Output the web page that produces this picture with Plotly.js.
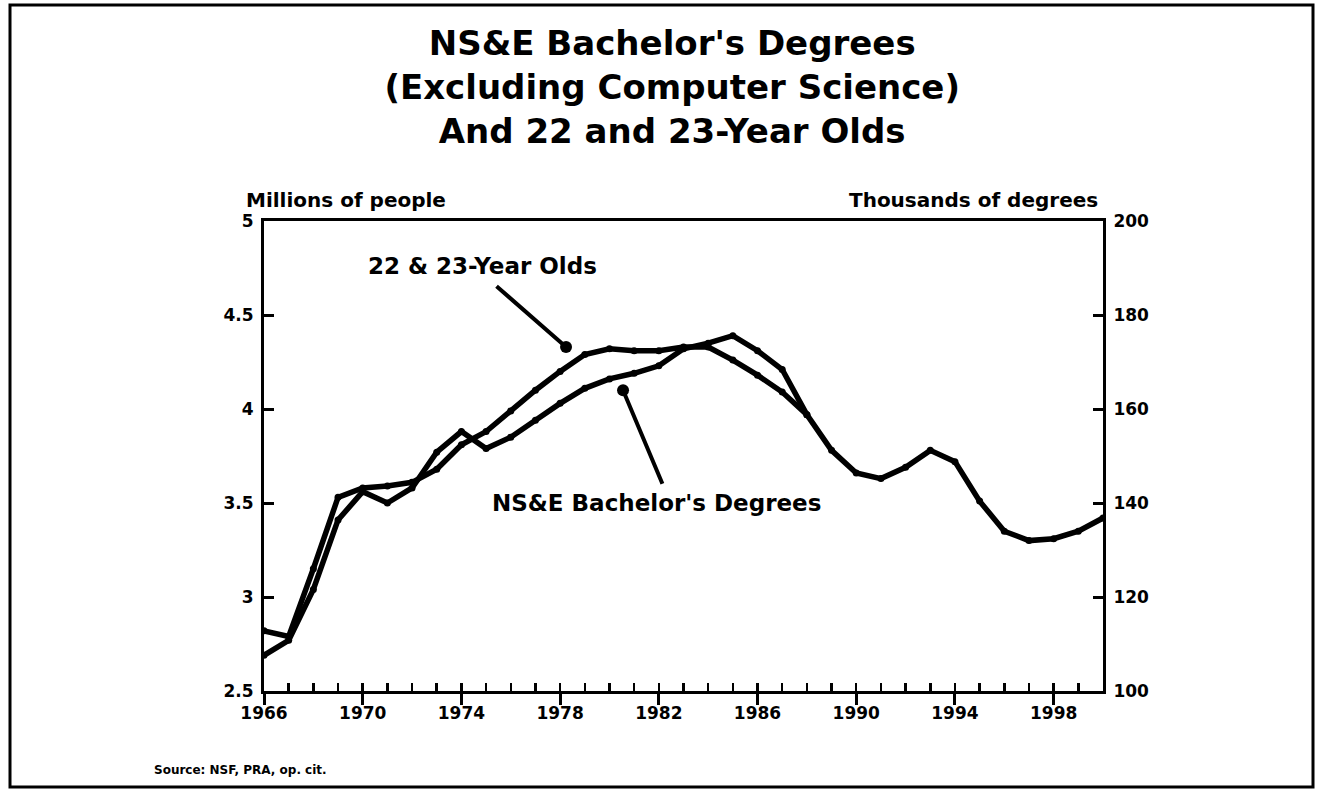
<!DOCTYPE html>
<html>
<head>
<meta charset="utf-8">
<script src="https://cdn.plot.ly/plotly-3.0.1.min.js"></script>
<style>
  html, body { margin: 0; padding: 0; background: #ffffff; }
  #chart { width: 1318px; height: 790px; }
</style>
</head>
<body>
<div id="chart"></div>
<script>
// ---- data ----
const years = [1966,1967,1968,1969,1970,1971,1972,1973,1974,1975,1976,1977,1978,1979,1980,1981,1982,1983,1984,1985,1986,1987,1988,1989,1990,1991,1992,1993,1994,1995,1996,1997,1998,1999,2000];
// 22 & 23-year olds, millions of people (left axis)
const popMillions = [2.82,2.79,3.15,3.53,3.58,3.59,3.61,3.68,3.81,3.88,3.99,4.10,4.20,4.29,4.32,4.31,4.31,4.33,4.33,4.26,4.18,4.09,3.97,3.78,3.66,3.63,3.69,3.78,3.72,3.51,3.35,3.30,3.31,3.35,3.42];
// NS&E bachelor's degrees excluding CS, thousands (right axis)
const degreeYears = [1966,1967,1968,1969,1970,1971,1972,1973,1974,1975,1976,1977,1978,1979,1980,1981,1982,1983,1984,1985,1986,1987,1988];
const degreesThousands = [107.6,110.8,121.6,136.4,142.4,140.0,143.2,150.8,155.2,151.6,154.0,157.6,161.2,164.4,166.4,167.6,169.2,172.8,174.0,175.6,172.4,168.4,158.8];
// tick labels
const majorYears = [1966,1970,1974,1978,1982,1986,1990,1994,1998];
const majorYearLabels = ['1966','1970','1974','1978','1982','1986','1990','1994','1998'];
const leftTicks = [2.5,3,3.5,4,4.5,5];
const leftTickLabels = ['2.5','3','3.5','4','4.5','5'];
const rightTicks = [100,120,140,160,180,200];
const rightTickLabels = ['100','120','140','160','180','200'];

const FONT = 'DejaVu Sans, Liberation Sans, Arial, sans-serif';
const bold = (size) => ({family: FONT, size: size, color: '#000', weight: 'bold'});

// plot-area geometry in pixels (for paper-coordinate conversion)
const L = 264, R = 1103, T = 221, B = 691;
const px = (x) => (x - L) / (R - L);
const py = (y) => (B - y) / (B - T);

const traces = [
  {
    x: years, y: popMillions, type: 'scatter', mode: 'lines+markers',
    line: {color: '#000', width: 5.5}, marker: {color: '#000', size: 7},
    xaxis: 'x', yaxis: 'y', name: '22 & 23-Year Olds', hoverinfo: 'x+y'
  },
  {
    x: degreeYears, y: degreesThousands, type: 'scatter', mode: 'lines+markers',
    line: {color: '#000', width: 5.5}, marker: {color: '#000', size: 7},
    xaxis: 'x', yaxis: 'y2', name: "NS&E Bachelor's Degrees", hoverinfo: 'x+y'
  },
  // invisible trace to activate the minor-tick overlay axis
  {x: [1966, 2000], y: [2.5, 2.5], xaxis: 'x2', yaxis: 'y', mode: 'none', type: 'scatter', hoverinfo: 'skip', showlegend: false}
];

const layout = {
  width: 1318, height: 790,
  paper_bgcolor: '#fff', plot_bgcolor: '#fff',
  showlegend: false,
  margin: {l: L, r: 1318 - R, t: T, b: 790 - B, pad: 0},
  title: {
    text: "NS&E Bachelor's Degrees<br>(Excluding Computer Science)<br>And 22 and 23-Year Olds",
    font: bold(34),
    x: 0.51, xref: 'container', xanchor: 'center',
    y: 1 - 55 / 790, yref: 'container', yanchor: 'middle'
  },
  xaxis: {
    range: [1966, 2000], showgrid: false, zeroline: false,
    showline: true, linecolor: '#000', linewidth: 3, mirror: true,
    tickmode: 'array', tickvals: majorYears, ticktext: majorYearLabels,
    ticks: 'outside', ticklen: 11, tickwidth: 3, tickcolor: '#000',
    tickfont: bold(17), ticklabelstandoff: -6
  },
  xaxis2: {
    overlaying: 'x', anchor: 'y', side: 'bottom',
    range: [1966, 2000], showgrid: false, zeroline: false, showline: false,
    tickmode: 'array', tickvals: years,
    ticks: 'inside', ticklen: 8, tickwidth: 2.5, tickcolor: '#000',
    showticklabels: false
  },
  yaxis: {
    range: [2.5, 5], showgrid: false, zeroline: false,
    showline: true, linecolor: '#000', linewidth: 3,
    tickmode: 'array', tickvals: leftTicks, ticktext: leftTickLabels,
    ticks: 'inside', ticklen: 10, tickwidth: 3, tickcolor: '#000',
    tickfont: bold(17), ticklabelstandoff: 4
  },
  yaxis2: {
    range: [100, 200], overlaying: 'y', side: 'right', anchor: 'x',
    showgrid: false, zeroline: false,
    showline: true, linecolor: '#000', linewidth: 3,
    tickmode: 'array', tickvals: rightTicks, ticktext: rightTickLabels,
    ticks: 'inside', ticklen: 10, tickwidth: 3, tickcolor: '#000',
    tickfont: bold(17), ticklabelstandoff: 4
  },
  annotations: [
    {text: 'Millions of people', xref: 'paper', yref: 'paper', x: px(244), y: py(200),
     xanchor: 'left', yanchor: 'middle', showarrow: false, font: bold(20)},
    {text: 'Thousands of degrees', xref: 'paper', yref: 'paper', x: px(1100), y: py(200),
     xanchor: 'right', yanchor: 'middle', showarrow: false, font: bold(20)},
    {text: '22 &amp; 23-Year Olds', xref: 'paper', yref: 'paper', x: px(482), y: py(266),
     xanchor: 'center', yanchor: 'middle', showarrow: false, font: bold(23)},
    {text: "NS&amp;E Bachelor's Degrees", xref: 'paper', yref: 'paper', x: px(656), y: py(503),
     xanchor: 'center', yanchor: 'middle', showarrow: false, font: bold(23)},
    {text: 'Source: NSF, PRA, op. cit.', xref: 'paper', yref: 'paper', x: px(152), y: py(770),
     xanchor: 'left', yanchor: 'middle', showarrow: false, font: bold(12)},
    // arrows
    {text: '', xref: 'x', yref: 'y', x: 1978.24, y: 4.33, ax: -71, ay: -62,
     showarrow: true, arrowhead: 6, arrowsize: 0.75, arrowwidth: 4, arrowcolor: '#000'},
    {text: '', xref: 'x', yref: 'y', x: 1980.55, y: 4.10, ax: 40, ay: 95,
     showarrow: true, arrowhead: 6, arrowsize: 0.75, arrowwidth: 4, arrowcolor: '#000'}
  ],
  shapes: [
    {type: 'rect', xref: 'paper', yref: 'paper',
     x0: px(10), x1: px(1313), y0: py(787), y1: py(5),
     line: {color: '#000', width: 3}, fillcolor: 'rgba(0,0,0,0)', layer: 'below'}
  ]
};

Plotly.newPlot('chart', traces, layout, {displayModeBar: false, staticPlot: true});
</script>
</body>
</html>
